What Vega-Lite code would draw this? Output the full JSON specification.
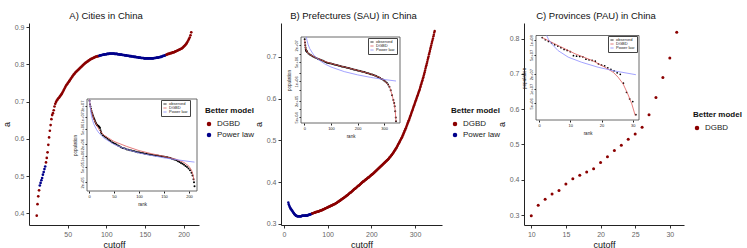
{
"$schema": "https://vega.github.io/schema/vega-lite/v6.json",
"background": "white",
"padding": {"left": 2, "top": 10, "right": 0, "bottom": 0},
"bounds": "flush",
"spacing": 82,
"config": {
  "font": "Liberation Sans",
  "view": {"stroke": null},
  "axis": {"grid": false, "domainColor": "#222", "tickColor": "#333", "labelColor": "#666", "labelFontSize": 7, "titleFontSize": 9, "titleFontWeight": "normal", "titleColor": "#111", "tickSize": 3, "labelPadding": 2, "titlePadding": 3},
  "title": {"fontSize": 9.5, "fontWeight": "normal", "color": "#111", "anchor": "middle", "offset": 3},
  "legend": {"titleFontSize": 8, "titleFontWeight": "bold", "titleColor": "#111", "labelFontSize": 8, "labelColor": "#222", "symbolType": "circle", "symbolSize": 20, "rowPadding": 3, "titlePadding": 5}
},
"datasets": {
"A": [
{"cutoff":10,"a":0.394,"model":"DGBD"},{"cutoff":11,"a":0.425,"model":"DGBD"},{"cutoff":12,"a":0.446,"model":"DGBD"},{"cutoff":13,"a":0.462,"model":"DGBD"},
{"cutoff":14,"a":0.475,"model":"Power law"},{"cutoff":15,"a":0.482,"model":"Power law"},{"cutoff":16,"a":0.489,"model":"Power law"},{"cutoff":17,"a":0.495,"model":"Power law"},{"cutoff":18,"a":0.504,"model":"Power law"},{"cutoff":19,"a":0.511,"model":"Power law"},{"cutoff":20,"a":0.519,"model":"Power law"},{"cutoff":21,"a":0.526,"model":"Power law"},
{"cutoff":22,"a":0.537,"model":"DGBD"},{"cutoff":23,"a":0.549,"model":"DGBD"},{"cutoff":24,"a":0.564,"model":"DGBD"},{"cutoff":25,"a":0.584,"model":"DGBD"},{"cutoff":26,"a":0.604,"model":"DGBD"},{"cutoff":27,"a":0.622,"model":"DGBD"},{"cutoff":28,"a":0.637,"model":"DGBD"},{"cutoff":29,"a":0.653,"model":"DGBD"},{"cutoff":30,"a":0.664,"model":"DGBD"},{"cutoff":31,"a":0.669,"model":"DGBD"},{"cutoff":32,"a":0.677,"model":"DGBD"},{"cutoff":33,"a":0.687,"model":"DGBD"},{"cutoff":34,"a":0.694,"model":"DGBD"},{"cutoff":35,"a":0.699,"model":"DGBD"},{"cutoff":36,"a":0.703,"model":"DGBD"},{"cutoff":37,"a":0.706,"model":"DGBD"},{"cutoff":38,"a":0.709,"model":"DGBD"},{"cutoff":39,"a":0.711,"model":"DGBD"},{"cutoff":40,"a":0.714,"model":"DGBD"},{"cutoff":41,"a":0.717,"model":"DGBD"},{"cutoff":42,"a":0.720,"model":"DGBD"},{"cutoff":43,"a":0.723,"model":"DGBD"},{"cutoff":44,"a":0.727,"model":"DGBD"},{"cutoff":45,"a":0.731,"model":"DGBD"},{"cutoff":46,"a":0.735,"model":"DGBD"},{"cutoff":47,"a":0.739,"model":"DGBD"},{"cutoff":48,"a":0.743,"model":"DGBD"},{"cutoff":49,"a":0.746,"model":"DGBD"},{"cutoff":50,"a":0.749,"model":"DGBD"},{"cutoff":51,"a":0.752,"model":"DGBD"},{"cutoff":52,"a":0.755,"model":"DGBD"},{"cutoff":53,"a":0.758,"model":"DGBD"},{"cutoff":54,"a":0.761,"model":"DGBD"},{"cutoff":55,"a":0.764,"model":"DGBD"},{"cutoff":56,"a":0.767,"model":"DGBD"},{"cutoff":57,"a":0.770,"model":"DGBD"},{"cutoff":58,"a":0.773,"model":"DGBD"},{"cutoff":59,"a":0.775,"model":"DGBD"},{"cutoff":60,"a":0.778,"model":"DGBD"},{"cutoff":61,"a":0.780,"model":"DGBD"},{"cutoff":62,"a":0.782,"model":"DGBD"},{"cutoff":63,"a":0.784,"model":"DGBD"},{"cutoff":64,"a":0.786,"model":"DGBD"},{"cutoff":65,"a":0.788,"model":"DGBD"},{"cutoff":66,"a":0.790,"model":"DGBD"},{"cutoff":67,"a":0.792,"model":"DGBD"},{"cutoff":68,"a":0.794,"model":"DGBD"},{"cutoff":69,"a":0.796,"model":"DGBD"},{"cutoff":70,"a":0.798,"model":"DGBD"},{"cutoff":71,"a":0.800,"model":"DGBD"},{"cutoff":72,"a":0.802,"model":"DGBD"},{"cutoff":73,"a":0.804,"model":"DGBD"},{"cutoff":74,"a":0.805,"model":"DGBD"},{"cutoff":75,"a":0.807,"model":"DGBD"},{"cutoff":76,"a":0.808,"model":"DGBD"},{"cutoff":77,"a":0.810,"model":"DGBD"},{"cutoff":78,"a":0.811,"model":"DGBD"},{"cutoff":79,"a":0.813,"model":"DGBD"},{"cutoff":80,"a":0.814,"model":"DGBD"},{"cutoff":81,"a":0.815,"model":"DGBD"},{"cutoff":82,"a":0.816,"model":"DGBD"},{"cutoff":83,"a":0.817,"model":"DGBD"},{"cutoff":84,"a":0.818,"model":"DGBD"},{"cutoff":85,"a":0.819,"model":"DGBD"},{"cutoff":86,"a":0.820,"model":"DGBD"},{"cutoff":87,"a":0.821,"model":"DGBD"},{"cutoff":88,"a":0.821,"model":"DGBD"},{"cutoff":89,"a":0.822,"model":"DGBD"},{"cutoff":90,"a":0.822,"model":"DGBD"},
{"cutoff":91,"a":0.823,"model":"Power law"},{"cutoff":92,"a":0.824,"model":"Power law"},{"cutoff":93,"a":0.824,"model":"Power law"},{"cutoff":94,"a":0.825,"model":"Power law"},{"cutoff":95,"a":0.825,"model":"Power law"},{"cutoff":96,"a":0.826,"model":"Power law"},{"cutoff":97,"a":0.826,"model":"Power law"},{"cutoff":98,"a":0.827,"model":"Power law"},{"cutoff":99,"a":0.827,"model":"Power law"},{"cutoff":100,"a":0.827,"model":"Power law"},{"cutoff":101,"a":0.828,"model":"Power law"},{"cutoff":102,"a":0.828,"model":"Power law"},{"cutoff":103,"a":0.828,"model":"Power law"},{"cutoff":104,"a":0.829,"model":"Power law"},{"cutoff":105,"a":0.829,"model":"Power law"},{"cutoff":106,"a":0.829,"model":"Power law"},{"cutoff":107,"a":0.829,"model":"Power law"},{"cutoff":108,"a":0.829,"model":"Power law"},{"cutoff":109,"a":0.829,"model":"Power law"},{"cutoff":110,"a":0.829,"model":"Power law"},{"cutoff":111,"a":0.828,"model":"Power law"},{"cutoff":112,"a":0.828,"model":"Power law"},{"cutoff":113,"a":0.828,"model":"Power law"},{"cutoff":114,"a":0.828,"model":"Power law"},{"cutoff":115,"a":0.827,"model":"Power law"},{"cutoff":116,"a":0.827,"model":"Power law"},{"cutoff":117,"a":0.827,"model":"Power law"},{"cutoff":118,"a":0.826,"model":"Power law"},{"cutoff":119,"a":0.826,"model":"Power law"},{"cutoff":120,"a":0.826,"model":"Power law"},{"cutoff":121,"a":0.825,"model":"Power law"},{"cutoff":122,"a":0.825,"model":"Power law"},{"cutoff":123,"a":0.825,"model":"Power law"},{"cutoff":124,"a":0.824,"model":"Power law"},{"cutoff":125,"a":0.824,"model":"Power law"},{"cutoff":126,"a":0.824,"model":"Power law"},{"cutoff":127,"a":0.823,"model":"Power law"},{"cutoff":128,"a":0.823,"model":"Power law"},{"cutoff":129,"a":0.823,"model":"Power law"},{"cutoff":130,"a":0.822,"model":"Power law"},{"cutoff":131,"a":0.822,"model":"Power law"},{"cutoff":132,"a":0.822,"model":"Power law"},{"cutoff":133,"a":0.821,"model":"Power law"},{"cutoff":134,"a":0.821,"model":"Power law"},{"cutoff":135,"a":0.821,"model":"Power law"},{"cutoff":136,"a":0.820,"model":"Power law"},{"cutoff":137,"a":0.820,"model":"Power law"},{"cutoff":138,"a":0.820,"model":"Power law"},{"cutoff":139,"a":0.819,"model":"Power law"},{"cutoff":140,"a":0.819,"model":"Power law"},{"cutoff":141,"a":0.819,"model":"Power law"},{"cutoff":142,"a":0.818,"model":"Power law"},{"cutoff":143,"a":0.818,"model":"Power law"},{"cutoff":144,"a":0.818,"model":"Power law"},{"cutoff":145,"a":0.817,"model":"Power law"},{"cutoff":146,"a":0.817,"model":"Power law"},{"cutoff":147,"a":0.817,"model":"Power law"},{"cutoff":148,"a":0.817,"model":"Power law"},{"cutoff":149,"a":0.816,"model":"Power law"},{"cutoff":150,"a":0.816,"model":"Power law"},{"cutoff":151,"a":0.816,"model":"Power law"},{"cutoff":152,"a":0.816,"model":"Power law"},{"cutoff":153,"a":0.816,"model":"Power law"},{"cutoff":154,"a":0.816,"model":"Power law"},{"cutoff":155,"a":0.816,"model":"Power law"},{"cutoff":156,"a":0.816,"model":"Power law"},{"cutoff":157,"a":0.816,"model":"Power law"},{"cutoff":158,"a":0.816,"model":"Power law"},{"cutoff":159,"a":0.816,"model":"Power law"},{"cutoff":160,"a":0.816,"model":"Power law"},{"cutoff":161,"a":0.816,"model":"Power law"},{"cutoff":162,"a":0.817,"model":"Power law"},{"cutoff":163,"a":0.817,"model":"Power law"},{"cutoff":164,"a":0.817,"model":"Power law"},{"cutoff":165,"a":0.818,"model":"Power law"},{"cutoff":166,"a":0.818,"model":"Power law"},{"cutoff":167,"a":0.818,"model":"Power law"},{"cutoff":168,"a":0.819,"model":"Power law"},{"cutoff":169,"a":0.819,"model":"Power law"},{"cutoff":170,"a":0.820,"model":"Power law"},{"cutoff":171,"a":0.820,"model":"Power law"},{"cutoff":172,"a":0.821,"model":"Power law"},{"cutoff":173,"a":0.822,"model":"Power law"},{"cutoff":174,"a":0.823,"model":"Power law"},{"cutoff":175,"a":0.823,"model":"Power law"},{"cutoff":176,"a":0.824,"model":"Power law"},{"cutoff":177,"a":0.825,"model":"Power law"},
{"cutoff":178,"a":0.826,"model":"DGBD"},{"cutoff":179,"a":0.827,"model":"DGBD"},{"cutoff":180,"a":0.828,"model":"DGBD"},{"cutoff":181,"a":0.828,"model":"DGBD"},{"cutoff":182,"a":0.829,"model":"DGBD"},{"cutoff":183,"a":0.830,"model":"DGBD"},{"cutoff":184,"a":0.830,"model":"DGBD"},{"cutoff":185,"a":0.831,"model":"DGBD"},{"cutoff":186,"a":0.832,"model":"DGBD"},{"cutoff":187,"a":0.832,"model":"DGBD"},{"cutoff":188,"a":0.833,"model":"DGBD"},{"cutoff":189,"a":0.834,"model":"DGBD"},{"cutoff":190,"a":0.835,"model":"DGBD"},{"cutoff":191,"a":0.836,"model":"DGBD"},{"cutoff":192,"a":0.837,"model":"DGBD"},{"cutoff":193,"a":0.838,"model":"DGBD"},{"cutoff":194,"a":0.839,"model":"DGBD"},{"cutoff":195,"a":0.840,"model":"DGBD"},{"cutoff":196,"a":0.841,"model":"DGBD"},{"cutoff":197,"a":0.842,"model":"DGBD"},{"cutoff":198,"a":0.843,"model":"DGBD"},{"cutoff":199,"a":0.845,"model":"DGBD"},{"cutoff":200,"a":0.847,"model":"DGBD"},{"cutoff":201,"a":0.849,"model":"DGBD"},{"cutoff":202,"a":0.851,"model":"DGBD"},{"cutoff":203,"a":0.854,"model":"DGBD"},{"cutoff":204,"a":0.857,"model":"DGBD"},{"cutoff":205,"a":0.860,"model":"DGBD"},{"cutoff":206,"a":0.864,"model":"DGBD"},{"cutoff":207,"a":0.868,"model":"DGBD"},{"cutoff":208,"a":0.872,"model":"DGBD"},{"cutoff":209,"a":0.878,"model":"DGBD"},{"cutoff":210,"a":0.886,"model":"DGBD"}
],
"B": [
{"cutoff":10,"a":0.351,"model":"Power law"},{"cutoff":11,"a":0.347,"model":"Power law"},{"cutoff":12,"a":0.344,"model":"Power law"},{"cutoff":13,"a":0.341,"model":"Power law"},{"cutoff":14,"a":0.339,"model":"Power law"},{"cutoff":15,"a":0.337,"model":"Power law"},{"cutoff":16,"a":0.335,"model":"Power law"},{"cutoff":17,"a":0.334,"model":"Power law"},{"cutoff":18,"a":0.332,"model":"Power law"},{"cutoff":19,"a":0.331,"model":"Power law"},{"cutoff":20,"a":0.329,"model":"Power law"},{"cutoff":21,"a":0.328,"model":"Power law"},{"cutoff":22,"a":0.326,"model":"Power law"},{"cutoff":23,"a":0.325,"model":"Power law"},{"cutoff":24,"a":0.323,"model":"Power law"},{"cutoff":25,"a":0.322,"model":"Power law"},{"cutoff":26,"a":0.321,"model":"Power law"},{"cutoff":27,"a":0.320,"model":"Power law"},{"cutoff":28,"a":0.319,"model":"Power law"},{"cutoff":29,"a":0.319,"model":"Power law"},{"cutoff":30,"a":0.318,"model":"Power law"},{"cutoff":31,"a":0.318,"model":"Power law"},{"cutoff":32,"a":0.318,"model":"Power law"},{"cutoff":33,"a":0.318,"model":"Power law"},{"cutoff":34,"a":0.318,"model":"Power law"},{"cutoff":35,"a":0.318,"model":"Power law"},{"cutoff":36,"a":0.318,"model":"Power law"},{"cutoff":37,"a":0.318,"model":"Power law"},{"cutoff":38,"a":0.318,"model":"Power law"},{"cutoff":39,"a":0.318,"model":"Power law"},{"cutoff":40,"a":0.318,"model":"Power law"},{"cutoff":41,"a":0.319,"model":"Power law"},{"cutoff":42,"a":0.319,"model":"Power law"},{"cutoff":43,"a":0.319,"model":"Power law"},{"cutoff":44,"a":0.319,"model":"Power law"},{"cutoff":45,"a":0.319,"model":"Power law"},{"cutoff":46,"a":0.319,"model":"Power law"},{"cutoff":47,"a":0.319,"model":"Power law"},{"cutoff":48,"a":0.319,"model":"Power law"},{"cutoff":49,"a":0.320,"model":"Power law"},{"cutoff":50,"a":0.320,"model":"Power law"},{"cutoff":51,"a":0.320,"model":"Power law"},{"cutoff":52,"a":0.320,"model":"Power law"},{"cutoff":53,"a":0.320,"model":"Power law"},{"cutoff":54,"a":0.320,"model":"Power law"},{"cutoff":55,"a":0.321,"model":"Power law"},{"cutoff":56,"a":0.321,"model":"Power law"},{"cutoff":57,"a":0.321,"model":"Power law"},{"cutoff":58,"a":0.322,"model":"Power law"},{"cutoff":59,"a":0.322,"model":"Power law"},{"cutoff":60,"a":0.322,"model":"Power law"},{"cutoff":61,"a":0.323,"model":"Power law"},{"cutoff":62,"a":0.323,"model":"Power law"},{"cutoff":63,"a":0.324,"model":"Power law"},{"cutoff":64,"a":0.324,"model":"Power law"},
{"cutoff":65,"a":0.325,"model":"DGBD"},{"cutoff":66,"a":0.325,"model":"DGBD"},{"cutoff":67,"a":0.325,"model":"DGBD"},{"cutoff":68,"a":0.326,"model":"DGBD"},{"cutoff":69,"a":0.326,"model":"DGBD"},{"cutoff":70,"a":0.327,"model":"DGBD"},{"cutoff":71,"a":0.327,"model":"DGBD"},{"cutoff":72,"a":0.327,"model":"DGBD"},{"cutoff":73,"a":0.328,"model":"DGBD"},{"cutoff":74,"a":0.328,"model":"DGBD"},{"cutoff":75,"a":0.328,"model":"DGBD"},{"cutoff":76,"a":0.329,"model":"DGBD"},{"cutoff":77,"a":0.329,"model":"DGBD"},{"cutoff":78,"a":0.329,"model":"DGBD"},{"cutoff":79,"a":0.330,"model":"DGBD"},{"cutoff":80,"a":0.330,"model":"DGBD"},{"cutoff":81,"a":0.330,"model":"DGBD"},{"cutoff":82,"a":0.331,"model":"DGBD"},{"cutoff":83,"a":0.331,"model":"DGBD"},{"cutoff":84,"a":0.332,"model":"DGBD"},{"cutoff":85,"a":0.332,"model":"DGBD"},{"cutoff":86,"a":0.332,"model":"DGBD"},{"cutoff":87,"a":0.333,"model":"DGBD"},{"cutoff":88,"a":0.333,"model":"DGBD"},{"cutoff":89,"a":0.334,"model":"DGBD"},{"cutoff":90,"a":0.334,"model":"DGBD"},{"cutoff":91,"a":0.335,"model":"DGBD"},{"cutoff":92,"a":0.335,"model":"DGBD"},{"cutoff":93,"a":0.336,"model":"DGBD"},{"cutoff":94,"a":0.336,"model":"DGBD"},{"cutoff":95,"a":0.337,"model":"DGBD"},{"cutoff":96,"a":0.337,"model":"DGBD"},{"cutoff":97,"a":0.338,"model":"DGBD"},{"cutoff":98,"a":0.338,"model":"DGBD"},{"cutoff":99,"a":0.339,"model":"DGBD"},{"cutoff":100,"a":0.339,"model":"DGBD"},{"cutoff":101,"a":0.340,"model":"DGBD"},{"cutoff":102,"a":0.340,"model":"DGBD"},{"cutoff":103,"a":0.341,"model":"DGBD"},{"cutoff":104,"a":0.341,"model":"DGBD"},{"cutoff":105,"a":0.342,"model":"DGBD"},{"cutoff":106,"a":0.342,"model":"DGBD"},{"cutoff":107,"a":0.343,"model":"DGBD"},{"cutoff":108,"a":0.343,"model":"DGBD"},{"cutoff":109,"a":0.344,"model":"DGBD"},{"cutoff":110,"a":0.344,"model":"DGBD"},{"cutoff":111,"a":0.345,"model":"DGBD"},{"cutoff":112,"a":0.345,"model":"DGBD"},{"cutoff":113,"a":0.346,"model":"DGBD"},{"cutoff":114,"a":0.346,"model":"DGBD"},{"cutoff":115,"a":0.347,"model":"DGBD"},{"cutoff":116,"a":0.347,"model":"DGBD"},{"cutoff":117,"a":0.348,"model":"DGBD"},{"cutoff":118,"a":0.348,"model":"DGBD"},{"cutoff":119,"a":0.349,"model":"DGBD"},{"cutoff":120,"a":0.350,"model":"DGBD"},{"cutoff":121,"a":0.350,"model":"DGBD"},{"cutoff":122,"a":0.351,"model":"DGBD"},{"cutoff":123,"a":0.352,"model":"DGBD"},{"cutoff":124,"a":0.353,"model":"DGBD"},{"cutoff":125,"a":0.353,"model":"DGBD"},{"cutoff":126,"a":0.354,"model":"DGBD"},{"cutoff":127,"a":0.355,"model":"DGBD"},{"cutoff":128,"a":0.355,"model":"DGBD"},{"cutoff":129,"a":0.356,"model":"DGBD"},{"cutoff":130,"a":0.357,"model":"DGBD"},{"cutoff":131,"a":0.358,"model":"DGBD"},{"cutoff":132,"a":0.358,"model":"DGBD"},{"cutoff":133,"a":0.359,"model":"DGBD"},{"cutoff":134,"a":0.360,"model":"DGBD"},{"cutoff":135,"a":0.361,"model":"DGBD"},{"cutoff":136,"a":0.361,"model":"DGBD"},{"cutoff":137,"a":0.362,"model":"DGBD"},{"cutoff":138,"a":0.363,"model":"DGBD"},{"cutoff":139,"a":0.364,"model":"DGBD"},{"cutoff":140,"a":0.364,"model":"DGBD"},{"cutoff":141,"a":0.365,"model":"DGBD"},{"cutoff":142,"a":0.366,"model":"DGBD"},{"cutoff":143,"a":0.367,"model":"DGBD"},{"cutoff":144,"a":0.368,"model":"DGBD"},{"cutoff":145,"a":0.368,"model":"DGBD"},{"cutoff":146,"a":0.369,"model":"DGBD"},{"cutoff":147,"a":0.370,"model":"DGBD"},{"cutoff":148,"a":0.371,"model":"DGBD"},{"cutoff":149,"a":0.372,"model":"DGBD"},{"cutoff":150,"a":0.373,"model":"DGBD"},{"cutoff":151,"a":0.374,"model":"DGBD"},{"cutoff":152,"a":0.375,"model":"DGBD"},{"cutoff":153,"a":0.375,"model":"DGBD"},{"cutoff":154,"a":0.376,"model":"DGBD"},{"cutoff":155,"a":0.377,"model":"DGBD"},{"cutoff":156,"a":0.378,"model":"DGBD"},{"cutoff":157,"a":0.379,"model":"DGBD"},{"cutoff":158,"a":0.380,"model":"DGBD"},{"cutoff":159,"a":0.381,"model":"DGBD"},{"cutoff":160,"a":0.382,"model":"DGBD"},{"cutoff":161,"a":0.383,"model":"DGBD"},{"cutoff":162,"a":0.384,"model":"DGBD"},{"cutoff":163,"a":0.384,"model":"DGBD"},{"cutoff":164,"a":0.385,"model":"DGBD"},{"cutoff":165,"a":0.386,"model":"DGBD"},{"cutoff":166,"a":0.387,"model":"DGBD"},{"cutoff":167,"a":0.388,"model":"DGBD"},{"cutoff":168,"a":0.389,"model":"DGBD"},{"cutoff":169,"a":0.390,"model":"DGBD"},{"cutoff":170,"a":0.391,"model":"DGBD"},{"cutoff":171,"a":0.391,"model":"DGBD"},{"cutoff":172,"a":0.392,"model":"DGBD"},{"cutoff":173,"a":0.393,"model":"DGBD"},{"cutoff":174,"a":0.394,"model":"DGBD"},{"cutoff":175,"a":0.395,"model":"DGBD"},{"cutoff":176,"a":0.396,"model":"DGBD"},{"cutoff":177,"a":0.397,"model":"DGBD"},{"cutoff":178,"a":0.398,"model":"DGBD"},{"cutoff":179,"a":0.399,"model":"DGBD"},{"cutoff":180,"a":0.400,"model":"DGBD"},{"cutoff":181,"a":0.401,"model":"DGBD"},{"cutoff":182,"a":0.401,"model":"DGBD"},{"cutoff":183,"a":0.402,"model":"DGBD"},{"cutoff":184,"a":0.403,"model":"DGBD"},{"cutoff":185,"a":0.404,"model":"DGBD"},{"cutoff":186,"a":0.405,"model":"DGBD"},{"cutoff":187,"a":0.406,"model":"DGBD"},{"cutoff":188,"a":0.406,"model":"DGBD"},{"cutoff":189,"a":0.407,"model":"DGBD"},{"cutoff":190,"a":0.408,"model":"DGBD"},{"cutoff":191,"a":0.409,"model":"DGBD"},{"cutoff":192,"a":0.410,"model":"DGBD"},{"cutoff":193,"a":0.411,"model":"DGBD"},{"cutoff":194,"a":0.411,"model":"DGBD"},{"cutoff":195,"a":0.412,"model":"DGBD"},{"cutoff":196,"a":0.413,"model":"DGBD"},{"cutoff":197,"a":0.414,"model":"DGBD"},{"cutoff":198,"a":0.415,"model":"DGBD"},{"cutoff":199,"a":0.416,"model":"DGBD"},{"cutoff":200,"a":0.417,"model":"DGBD"},{"cutoff":201,"a":0.418,"model":"DGBD"},{"cutoff":202,"a":0.418,"model":"DGBD"},{"cutoff":203,"a":0.419,"model":"DGBD"},{"cutoff":204,"a":0.420,"model":"DGBD"},{"cutoff":205,"a":0.421,"model":"DGBD"},{"cutoff":206,"a":0.422,"model":"DGBD"},{"cutoff":207,"a":0.423,"model":"DGBD"},{"cutoff":208,"a":0.424,"model":"DGBD"},{"cutoff":209,"a":0.425,"model":"DGBD"},{"cutoff":210,"a":0.426,"model":"DGBD"},{"cutoff":211,"a":0.427,"model":"DGBD"},{"cutoff":212,"a":0.428,"model":"DGBD"},{"cutoff":213,"a":0.429,"model":"DGBD"},{"cutoff":214,"a":0.430,"model":"DGBD"},{"cutoff":215,"a":0.431,"model":"DGBD"},{"cutoff":216,"a":0.432,"model":"DGBD"},{"cutoff":217,"a":0.433,"model":"DGBD"},{"cutoff":218,"a":0.434,"model":"DGBD"},{"cutoff":219,"a":0.435,"model":"DGBD"},{"cutoff":220,"a":0.436,"model":"DGBD"},{"cutoff":221,"a":0.437,"model":"DGBD"},{"cutoff":222,"a":0.438,"model":"DGBD"},{"cutoff":223,"a":0.439,"model":"DGBD"},{"cutoff":224,"a":0.440,"model":"DGBD"},{"cutoff":225,"a":0.441,"model":"DGBD"},{"cutoff":226,"a":0.442,"model":"DGBD"},{"cutoff":227,"a":0.443,"model":"DGBD"},{"cutoff":228,"a":0.444,"model":"DGBD"},{"cutoff":229,"a":0.445,"model":"DGBD"},{"cutoff":230,"a":0.446,"model":"DGBD"},{"cutoff":231,"a":0.447,"model":"DGBD"},{"cutoff":232,"a":0.448,"model":"DGBD"},{"cutoff":233,"a":0.449,"model":"DGBD"},{"cutoff":234,"a":0.450,"model":"DGBD"},{"cutoff":235,"a":0.451,"model":"DGBD"},{"cutoff":236,"a":0.452,"model":"DGBD"},{"cutoff":237,"a":0.453,"model":"DGBD"},{"cutoff":238,"a":0.454,"model":"DGBD"},{"cutoff":239,"a":0.455,"model":"DGBD"},{"cutoff":240,"a":0.456,"model":"DGBD"},{"cutoff":241,"a":0.458,"model":"DGBD"},{"cutoff":242,"a":0.459,"model":"DGBD"},{"cutoff":243,"a":0.460,"model":"DGBD"},{"cutoff":244,"a":0.461,"model":"DGBD"},{"cutoff":245,"a":0.463,"model":"DGBD"},{"cutoff":246,"a":0.464,"model":"DGBD"},{"cutoff":247,"a":0.465,"model":"DGBD"},{"cutoff":248,"a":0.467,"model":"DGBD"},{"cutoff":249,"a":0.468,"model":"DGBD"},{"cutoff":250,"a":0.470,"model":"DGBD"},{"cutoff":251,"a":0.471,"model":"DGBD"},{"cutoff":252,"a":0.473,"model":"DGBD"},{"cutoff":253,"a":0.475,"model":"DGBD"},{"cutoff":254,"a":0.476,"model":"DGBD"},{"cutoff":255,"a":0.478,"model":"DGBD"},{"cutoff":256,"a":0.480,"model":"DGBD"},{"cutoff":257,"a":0.481,"model":"DGBD"},{"cutoff":258,"a":0.483,"model":"DGBD"},{"cutoff":259,"a":0.485,"model":"DGBD"},{"cutoff":260,"a":0.487,"model":"DGBD"},{"cutoff":261,"a":0.489,"model":"DGBD"},{"cutoff":262,"a":0.491,"model":"DGBD"},{"cutoff":263,"a":0.493,"model":"DGBD"},{"cutoff":264,"a":0.495,"model":"DGBD"},{"cutoff":265,"a":0.497,"model":"DGBD"},{"cutoff":266,"a":0.499,"model":"DGBD"},{"cutoff":267,"a":0.501,"model":"DGBD"},{"cutoff":268,"a":0.503,"model":"DGBD"},{"cutoff":269,"a":0.505,"model":"DGBD"},{"cutoff":270,"a":0.507,"model":"DGBD"},{"cutoff":271,"a":0.509,"model":"DGBD"},{"cutoff":272,"a":0.512,"model":"DGBD"},{"cutoff":273,"a":0.514,"model":"DGBD"},{"cutoff":274,"a":0.517,"model":"DGBD"},{"cutoff":275,"a":0.519,"model":"DGBD"},{"cutoff":276,"a":0.522,"model":"DGBD"},{"cutoff":277,"a":0.524,"model":"DGBD"},{"cutoff":278,"a":0.527,"model":"DGBD"},{"cutoff":279,"a":0.529,"model":"DGBD"},{"cutoff":280,"a":0.532,"model":"DGBD"},{"cutoff":281,"a":0.535,"model":"DGBD"},{"cutoff":282,"a":0.537,"model":"DGBD"},{"cutoff":283,"a":0.540,"model":"DGBD"},{"cutoff":284,"a":0.543,"model":"DGBD"},{"cutoff":285,"a":0.546,"model":"DGBD"},{"cutoff":286,"a":0.548,"model":"DGBD"},{"cutoff":287,"a":0.551,"model":"DGBD"},{"cutoff":288,"a":0.554,"model":"DGBD"},{"cutoff":289,"a":0.557,"model":"DGBD"},{"cutoff":290,"a":0.560,"model":"DGBD"},{"cutoff":291,"a":0.563,"model":"DGBD"},{"cutoff":292,"a":0.566,"model":"DGBD"},{"cutoff":293,"a":0.569,"model":"DGBD"},{"cutoff":294,"a":0.572,"model":"DGBD"},{"cutoff":295,"a":0.575,"model":"DGBD"},{"cutoff":296,"a":0.578,"model":"DGBD"},{"cutoff":297,"a":0.581,"model":"DGBD"},{"cutoff":298,"a":0.584,"model":"DGBD"},{"cutoff":299,"a":0.587,"model":"DGBD"},{"cutoff":300,"a":0.590,"model":"DGBD"},{"cutoff":301,"a":0.593,"model":"DGBD"},{"cutoff":302,"a":0.596,"model":"DGBD"},{"cutoff":303,"a":0.599,"model":"DGBD"},{"cutoff":304,"a":0.602,"model":"DGBD"},{"cutoff":305,"a":0.605,"model":"DGBD"},{"cutoff":306,"a":0.608,"model":"DGBD"},{"cutoff":307,"a":0.611,"model":"DGBD"},{"cutoff":308,"a":0.614,"model":"DGBD"},{"cutoff":309,"a":0.617,"model":"DGBD"},{"cutoff":310,"a":0.620,"model":"DGBD"},{"cutoff":311,"a":0.623,"model":"DGBD"},{"cutoff":312,"a":0.627,"model":"DGBD"},{"cutoff":313,"a":0.630,"model":"DGBD"},{"cutoff":314,"a":0.634,"model":"DGBD"},{"cutoff":315,"a":0.637,"model":"DGBD"},{"cutoff":316,"a":0.641,"model":"DGBD"},{"cutoff":317,"a":0.644,"model":"DGBD"},{"cutoff":318,"a":0.648,"model":"DGBD"},{"cutoff":319,"a":0.651,"model":"DGBD"},{"cutoff":320,"a":0.655,"model":"DGBD"},{"cutoff":321,"a":0.659,"model":"DGBD"},{"cutoff":322,"a":0.663,"model":"DGBD"},{"cutoff":323,"a":0.667,"model":"DGBD"},{"cutoff":324,"a":0.672,"model":"DGBD"},{"cutoff":325,"a":0.676,"model":"DGBD"},{"cutoff":326,"a":0.680,"model":"DGBD"},{"cutoff":327,"a":0.684,"model":"DGBD"},{"cutoff":328,"a":0.688,"model":"DGBD"},{"cutoff":329,"a":0.693,"model":"DGBD"},{"cutoff":330,"a":0.697,"model":"DGBD"},{"cutoff":331,"a":0.701,"model":"DGBD"},{"cutoff":332,"a":0.706,"model":"DGBD"},{"cutoff":333,"a":0.710,"model":"DGBD"},{"cutoff":334,"a":0.714,"model":"DGBD"},{"cutoff":335,"a":0.719,"model":"DGBD"},{"cutoff":336,"a":0.723,"model":"DGBD"},{"cutoff":337,"a":0.727,"model":"DGBD"},{"cutoff":338,"a":0.732,"model":"DGBD"},{"cutoff":339,"a":0.736,"model":"DGBD"},{"cutoff":340,"a":0.740,"model":"DGBD"},{"cutoff":341,"a":0.744,"model":"DGBD"},{"cutoff":342,"a":0.749,"model":"DGBD"},{"cutoff":343,"a":0.753,"model":"DGBD"},{"cutoff":344,"a":0.758,"model":"DGBD"},{"cutoff":345,"a":0.762,"model":"DGBD"}
],
"C": [
{"cutoff":10,"a":0.298,"model":"DGBD"},{"cutoff":11,"a":0.328,"model":"DGBD"},{"cutoff":12,"a":0.345,"model":"DGBD"},{"cutoff":13,"a":0.360,"model":"DGBD"},{"cutoff":14,"a":0.370,"model":"DGBD"},{"cutoff":15,"a":0.388,"model":"DGBD"},{"cutoff":16,"a":0.403,"model":"DGBD"},{"cutoff":17,"a":0.413,"model":"DGBD"},{"cutoff":18,"a":0.422,"model":"DGBD"},{"cutoff":19,"a":0.431,"model":"DGBD"},{"cutoff":20,"a":0.449,"model":"DGBD"},{"cutoff":21,"a":0.465,"model":"DGBD"},{"cutoff":22,"a":0.483,"model":"DGBD"},{"cutoff":23,"a":0.498,"model":"DGBD"},{"cutoff":24,"a":0.515,"model":"DGBD"},{"cutoff":25,"a":0.530,"model":"DGBD"},{"cutoff":26,"a":0.549,"model":"DGBD"},{"cutoff":27,"a":0.584,"model":"DGBD"},{"cutoff":28,"a":0.633,"model":"DGBD"},{"cutoff":29,"a":0.690,"model":"DGBD"},{"cutoff":30,"a":0.745,"model":"DGBD"},{"cutoff":31,"a":0.818,"model":"DGBD"}
],
"A_obs": [
{"rank":1,"population":2.69e7},{"rank":2,"population":2.2e7},{"rank":3,"population":1.9e7},{"rank":4,"population":1.66e7},{"rank":5,"population":1.45e7},{"rank":6,"population":1.32e7},{"rank":7,"population":1.2e7},{"rank":8,"population":1.1e7},{"rank":9,"population":1.0e7},{"rank":10,"population":9.33e6},{"rank":11,"population":8.7e6},{"rank":12,"population":8.0e6},{"rank":13,"population":7.41e6},{"rank":14,"population":7.0e6},{"rank":15,"population":6.6e6},{"rank":16,"population":6.31e6},{"rank":17,"population":6.1e6},{"rank":18,"population":6.0e6},{"rank":19,"population":5.89e6},{"rank":20,"population":5.7e6},{"rank":21,"population":5.5e6},{"rank":22,"population":5.25e6},{"rank":23,"population":4.6e6},{"rank":24,"population":4.1e6},{"rank":25,"population":3.8e6},{"rank":28,"population":3.39e6},{"rank":31,"population":3.16e6},{"rank":34,"population":2.95e6},{"rank":37,"population":2.75e6},{"rank":40,"population":2.57e6},{"rank":43,"population":2.4e6},{"rank":46,"population":2.24e6},{"rank":49,"population":2.14e6},{"rank":52,"population":2.04e6},{"rank":55,"population":1.95e6},{"rank":58,"population":1.82e6},{"rank":61,"population":1.74e6},{"rank":64,"population":1.66e6},{"rank":67,"population":1.58e6},{"rank":70,"population":1.55e6},{"rank":73,"population":1.51e6},{"rank":76,"population":1.45e6},{"rank":79,"population":1.41e6},{"rank":82,"population":1.38e6},{"rank":85,"population":1.35e6},{"rank":88,"population":1.32e6},{"rank":91,"population":1.29e6},{"rank":94,"population":1.26e6},{"rank":97,"population":1.23e6},{"rank":100,"population":1.22e6},{"rank":103,"population":1.19e6},{"rank":106,"population":1.16e6},{"rank":109,"population":1.15e6},{"rank":112,"population":1.12e6},{"rank":115,"population":1.11e6},{"rank":118,"population":1.08e6},{"rank":121,"population":1.07e6},{"rank":124,"population":1.05e6},{"rank":127,"population":1.035e6},{"rank":130,"population":1.02e6},{"rank":133,"population":1.01e6},{"rank":136,"population":1.0e6},{"rank":139,"population":9.89e5},{"rank":142,"population":9.77e5},{"rank":145,"population":9.66e5},{"rank":148,"population":9.44e5},{"rank":151,"population":9.33e5},{"rank":154,"population":9.12e5},{"rank":157,"population":9.02e5},{"rank":160,"population":8.81e5},{"rank":163,"population":8.61e5},{"rank":166,"population":8.32e5},{"rank":169,"population":8.04e5},{"rank":172,"population":7.76e5},{"rank":175,"population":7.5e5},{"rank":178,"population":7.16e5},{"rank":181,"population":6.76e5},{"rank":184,"population":6.38e5},{"rank":187,"population":6.1e5},{"rank":190,"population":5.75e5},{"rank":193,"population":5.37e5},{"rank":196,"population":5.01e5},{"rank":199,"population":4.57e5},{"rank":202,"population":4.17e5},{"rank":205,"population":3.55e5},{"rank":207,"population":3.02e5},{"rank":209,"population":2.4e5},{"rank":210,"population":2.0e5},{"rank":211,"population":1.58e5}
],
"A_fit": [
{"model":"DGBD","rank":1,"population":2.95e7},{"model":"DGBD","rank":2,"population":2.1e7},{"model":"DGBD","rank":3,"population":1.8e7},{"model":"DGBD","rank":5,"population":1.48e7},{"model":"DGBD","rank":10,"population":8.71e6},{"model":"DGBD","rank":20,"population":4.79e6},{"model":"DGBD","rank":30,"population":3.39e6},{"model":"DGBD","rank":50,"population":2.34e6},{"model":"DGBD","rank":75,"population":1.74e6},{"model":"DGBD","rank":100,"population":1.35e6},{"model":"DGBD","rank":125,"population":1.12e6},{"model":"DGBD","rank":150,"population":9.55e5},{"model":"DGBD","rank":175,"population":7.94e5},{"model":"DGBD","rank":190,"population":6.61e5},{"model":"DGBD","rank":200,"population":5.25e5},{"model":"DGBD","rank":205,"population":4.17e5},{"model":"DGBD","rank":208,"population":3.16e5},{"model":"DGBD","rank":210,"population":2.24e5},
{"model":"Power law","rank":1.3,"population":2.92e7},{"model":"Power law","rank":2,"population":2.12e7},{"model":"Power law","rank":3,"population":1.57e7},{"model":"Power law","rank":5,"population":1.08e7},{"model":"Power law","rank":7,"population":8.41e6},{"model":"Power law","rank":10,"population":6.46e6},{"model":"Power law","rank":15,"population":4.79e6},{"model":"Power law","rank":20,"population":3.86e6},{"model":"Power law","rank":30,"population":2.86e6},{"model":"Power law","rank":50,"population":1.96e6},{"model":"Power law","rank":75,"population":1.46e6},{"model":"Power law","rank":100,"population":1.17e6},{"model":"Power law","rank":150,"population":8.71e5},{"model":"Power law","rank":200,"population":7.03e5},{"model":"Power law","rank":211,"population":6.76e5}
],
"B_obs": [
{"rank":1,"population":3.31e7},{"rank":2,"population":2.51e7},{"rank":3,"population":2.0e7},{"rank":4,"population":1.66e7},{"rank":5,"population":1.45e7},{"rank":6,"population":1.32e7},{"rank":7,"population":1.26e7},{"rank":8,"population":1.23e7},{"rank":9,"population":1.19e7},{"rank":10,"population":1.16e7},{"rank":15,"population":1.02e7},{"rank":20,"population":9.23e6},{"rank":25,"population":8.71e6},{"rank":30,"population":8.13e6},{"rank":35,"population":7.67e6},{"rank":40,"population":7.24e6},{"rank":45,"population":6.92e6},{"rank":50,"population":6.61e6},{"rank":55,"population":6.31e6},{"rank":60,"population":6.03e6},{"rank":65,"population":5.75e6},{"rank":70,"population":5.5e6},{"rank":75,"population":5.25e6},{"rank":80,"population":5.01e6},{"rank":85,"population":4.73e6},{"rank":90,"population":4.62e6},{"rank":95,"population":4.47e6},{"rank":100,"population":4.37e6},{"rank":105,"population":4.27e6},{"rank":110,"population":4.12e6},{"rank":115,"population":3.98e6},{"rank":120,"population":3.89e6},{"rank":125,"population":3.8e6},{"rank":130,"population":3.67e6},{"rank":135,"population":3.55e6},{"rank":140,"population":3.43e6},{"rank":145,"population":3.35e6},{"rank":150,"population":3.27e6},{"rank":155,"population":3.2e6},{"rank":160,"population":3.09e6},{"rank":165,"population":3.02e6},{"rank":170,"population":2.95e6},{"rank":175,"population":2.88e6},{"rank":180,"population":2.79e6},{"rank":185,"population":2.69e6},{"rank":190,"population":2.63e6},{"rank":195,"population":2.57e6},{"rank":200,"population":2.48e6},{"rank":205,"population":2.43e6},{"rank":210,"population":2.37e6},{"rank":215,"population":2.29e6},{"rank":220,"population":2.24e6},{"rank":225,"population":2.16e6},{"rank":230,"population":2.09e6},{"rank":235,"population":2.02e6},{"rank":240,"population":1.95e6},{"rank":245,"population":1.88e6},{"rank":250,"population":1.82e6},{"rank":255,"population":1.76e6},{"rank":260,"population":1.7e6},{"rank":265,"population":1.62e6},{"rank":270,"population":1.55e6},{"rank":275,"population":1.48e6},{"rank":280,"population":1.41e6},{"rank":285,"population":1.32e6},{"rank":290,"population":1.23e6},{"rank":295,"population":1.16e6},{"rank":300,"population":1.08e6},{"rank":305,"population":9.89e5},{"rank":310,"population":8.91e5},{"rank":315,"population":7.76e5},{"rank":320,"population":6.46e5},{"rank":325,"population":4.79e5},{"rank":330,"population":3.16e5},{"rank":335,"population":2.14e5},{"rank":338,"population":1.66e5},{"rank":340,"population":1.26e5},{"rank":342,"population":8.32e4},{"rank":344,"population":5.01e4},{"rank":345,"population":3.63e4}
],
"B_fit": [
{"model":"DGBD","rank":1,"population":3.16e7},{"model":"DGBD","rank":2,"population":2.3e7},{"model":"DGBD","rank":3,"population":1.91e7},{"model":"DGBD","rank":5,"population":1.48e7},{"model":"DGBD","rank":10,"population":1.15e7},{"model":"DGBD","rank":20,"population":9.33e6},{"model":"DGBD","rank":40,"population":7.33e6},{"model":"DGBD","rank":70,"population":5.56e6},{"model":"DGBD","rank":100,"population":4.42e6},{"model":"DGBD","rank":150,"population":3.31e6},{"model":"DGBD","rank":200,"population":2.51e6},{"model":"DGBD","rank":250,"population":1.84e6},{"model":"DGBD","rank":280,"population":1.43e6},{"model":"DGBD","rank":300,"population":1.1e6},{"model":"DGBD","rank":320,"population":6.61e5},{"model":"DGBD","rank":330,"population":3.31e5},{"model":"DGBD","rank":338,"population":1.58e5},{"model":"DGBD","rank":342,"population":8.91e4},{"model":"DGBD","rank":345,"population":3.55e4},
{"model":"Power law","rank":7,"population":3.98e7},{"model":"Power law","rank":8,"population":3.57e7},{"model":"Power law","rank":10,"population":2.9e7},{"model":"Power law","rank":14,"population":2.11e7},{"model":"Power law","rank":20,"population":1.51e7},{"model":"Power law","rank":35,"population":8.89e6},{"model":"Power law","rank":50,"population":6.35e6},{"model":"Power law","rank":75,"population":4.34e6},{"model":"Power law","rank":100,"population":3.3e6},{"model":"Power law","rank":150,"population":2.25e6},{"model":"Power law","rank":200,"population":1.72e6},{"model":"Power law","rank":250,"population":1.39e6},{"model":"Power law","rank":300,"population":1.17e6},{"model":"Power law","rank":345,"population":1.03e6}
],
"C_obs": [
{"rank":1,"population":1.14e8},{"rank":2,"population":1.03e8},{"rank":3,"population":9.53e7},{"rank":4,"population":8.79e7},{"rank":5,"population":8.13e7},{"rank":6,"population":7.62e7},{"rank":7,"population":7.06e7},{"rank":8,"population":6.52e7},{"rank":9,"population":6.21e7},{"rank":10,"population":5.83e7},{"rank":11,"population":4.82e7},{"rank":12,"population":4.73e7},{"rank":13,"population":4.67e7},{"rank":14,"population":4.59e7},{"rank":15,"population":4.1e7},{"rank":16,"population":3.98e7},{"rank":17,"population":3.85e7},{"rank":18,"population":3.73e7},{"rank":19,"population":3.29e7},{"rank":20,"population":3.08e7},{"rank":21,"population":2.99e7},{"rank":22,"population":2.72e7},{"rank":23,"population":2.51e7},{"rank":24,"population":2.36e7},{"rank":25,"population":2.14e7},{"rank":26,"population":2.0e7},{"rank":27,"population":1.31e7},{"rank":28,"population":8.51e6},{"rank":29,"population":6.21e6},{"rank":30,"population":5.46e6},{"rank":31,"population":2.94e6}
],
"C_fit": [
{"model":"DGBD","rank":1,"population":1.14e8},{"model":"DGBD","rank":6,"population":7.87e7},{"model":"DGBD","rank":11.5,"population":5.3e7},{"model":"DGBD","rank":17,"population":3.85e7},{"model":"DGBD","rank":21,"population":2.81e7},{"model":"DGBD","rank":23.7,"population":2.21e7},{"model":"DGBD","rank":25.3,"population":1.74e7},{"model":"DGBD","rank":26.9,"population":1.27e7},{"model":"DGBD","rank":28.4,"population":7.87e6},{"model":"DGBD","rank":29.7,"population":4.89e6},{"model":"DGBD","rank":30.8,"population":2.8e6},
{"model":"Power law","rank":2.4,"population":1.26e8},{"model":"Power law","rank":3,"population":1.05e8},{"model":"Power law","rank":4,"population":8.51e7},{"model":"Power law","rank":6,"population":6.2e7},{"model":"Power law","rank":9.3,"population":4.51e7},{"model":"Power law","rank":13.6,"population":3.54e7},{"model":"Power law","rank":18.9,"population":2.79e7},{"model":"Power law","rank":24.2,"population":2.34e7},{"model":"Power law","rank":31,"population":1.96e7}
]
},
"hconcat": [
{
  "width": 170, "height": 202,
  "title": {"text": "A)  Cities in China", "dx": -8},
  "layer": [
    {
      "data": {"name": "A"},
      "mark": {"type": "circle", "size": 7, "opacity": 1},
      "encoding": {
        "x": {"field": "cutoff", "type": "quantitative", "scale": {"domain": [0, 220], "nice": false, "zero": false}, "axis": {"orient": "bottom", "values": [50, 100, 150, 200], "title": "cutoff"}},
        "y": {"field": "a", "type": "quantitative", "scale": {"domain": [0.369, 0.911], "nice": false, "zero": false}, "axis": {"orient": "left", "values": [0.4, 0.5, 0.6, 0.7, 0.8, 0.9], "format": ".1f", "title": "a"}},
        "color": {"field": "model", "type": "nominal", "scale": {"domain": ["DGBD", "Power law"], "range": ["#8b0000", "#00008b"]}, "legend": {"title": "Better model", "orient": "none", "legendX": 176, "legendY": 84}}
      }
    },
    {
      "layer": [
        {
          "data": {"values": [{}]},
          "mark": {"type": "rect", "fill": "white", "stroke": "#444", "strokeWidth": 0.8},
          "encoding": {
            "x": {"datum": -4, "type": "quantitative"}, "x2": {"datum": 216},
            "y": {"datum": 119000, "type": "quantitative"}, "y2": {"datum": 30000000}
          }
        },
        {
          "data": {"name": "A_obs"},
          "transform": [{"calculate": "'observed'", "as": "series"}],
          "mark": {"type": "circle", "size": 4, "opacity": 1},
          "encoding": {
            "x": {"field": "rank", "type": "quantitative", "scale": {"domain": [-4, 216], "range": [58, 168], "nice": false, "zero": false}, "axis": {"orient": "bottom", "offset": -34, "values": [0, 50, 100, 150, 200], "title": "rank", "labelFontSize": 4, "titleFontSize": 4.5, "tickSize": 2, "labelPadding": 1, "titlePadding": 3, "domain": false, "labelColor": "#222", "tickColor": "#222", "titleColor": "#222"}},
            "y": {"field": "population", "type": "quantitative", "scale": {"type": "log", "domain": [119000, 30000000], "range": [168, 76], "nice": false}, "axis": {"orient": "left", "offset": -58, "values": [200000, 500000, 1000000, 2000000, 5000000, 10000000, 20000000], "labelExpr": "replace(format(datum.value, '.0e'), 'e+', 'e+0')", "title": "population", "labelAngle": -90, "labelAlign": "center", "labelBaseline": "bottom", "labelFontSize": 4, "titleFontSize": 4.5, "tickSize": 2, "labelPadding": 1, "titlePadding": 3, "domain": false, "labelColor": "#222", "tickColor": "#222", "titleColor": "#222"}},
            "color": {"field": "series", "type": "nominal", "scale": {"domain": ["observed", "DGBD", "Power law"], "range": ["#000000", "#e05a5a", "#8c8cff"]}, "legend": {"orient": "none", "legendX": 132, "legendY": 77, "title": null, "labelFontSize": 4, "symbolSize": 10, "symbolStrokeWidth": 0.8, "padding": 2, "rowPadding": 0, "strokeColor": "#444", "fillColor": "white", "labelOffset": 2, "symbolType": "stroke", "encode": {"symbols": {"update": {"shape": {"signal": "datum.value === 'observed' ? 'circle' : 'stroke'"}, "fill": {"signal": "datum.value === 'observed' ? 'black' : 'transparent'"}, "stroke": {"signal": "datum.value === 'observed' ? 'black' : datum.value === 'DGBD' ? '#e05a5a' : '#8c8cff'"}}}}}}
          }
        },
        {
          "data": {"name": "A_fit"},
          "mark": {"type": "line", "strokeWidth": 0.8},
          "encoding": {
            "x": {"field": "rank", "type": "quantitative"},
            "y": {"field": "population", "type": "quantitative"},
            "color": {"field": "model", "type": "nominal"}
          }
        }
      ]
    }
  ],
  "resolve": {"scale": {"x": "independent", "y": "independent", "color": "independent"}}
},
{
  "width": 161, "height": 202,
  "title": {"text": "B)  Prefectures (SAU) in China", "dx": -8},
  "layer": [
    {
      "data": {"name": "B"},
      "mark": {"type": "circle", "size": 6, "opacity": 1},
      "encoding": {
        "x": {"field": "cutoff", "type": "quantitative", "scale": {"domain": [-6.75, 361.75], "nice": false, "zero": false}, "axis": {"orient": "bottom", "values": [0, 100, 200, 300], "title": "cutoff"}},
        "y": {"field": "a", "type": "quantitative", "scale": {"domain": [0.297, 0.781], "nice": false, "zero": false}, "axis": {"orient": "left", "values": [0.3, 0.4, 0.5, 0.6, 0.7], "format": ".1f", "title": "a"}},
        "color": {"field": "model", "type": "nominal", "scale": {"domain": ["DGBD", "Power law"], "range": ["#8b0000", "#00008b"]}, "legend": {"title": "Better model", "orient": "none", "legendX": 170, "legendY": 84}}
      }
    },
    {
      "layer": [
        {
          "data": {"values": [{}]},
          "mark": {"type": "rect", "fill": "white", "stroke": "#444", "strokeWidth": 0.8},
          "encoding": {
            "x": {"datum": -13, "type": "quantitative"}, "x2": {"datum": 360},
            "y": {"datum": 31623, "type": "quantitative"}, "y2": {"datum": 39800000}
          }
        },
        {
          "data": {"name": "B_obs"},
          "transform": [{"calculate": "'observed'", "as": "series"}],
          "mark": {"type": "circle", "size": 4, "opacity": 1},
          "encoding": {
            "x": {"field": "rank", "type": "quantitative", "scale": {"domain": [-13, 360], "range": [20, 119], "nice": false, "zero": false}, "axis": {"orient": "bottom", "offset": -102, "values": [0, 50, 100, 150, 200, 250, 300, 350], "title": "rank", "labelFontSize": 4, "titleFontSize": 4.5, "tickSize": 2, "labelPadding": 1, "titlePadding": 3, "domain": false, "labelColor": "#222", "tickColor": "#222", "titleColor": "#222"}},
            "y": {"field": "population", "type": "quantitative", "scale": {"type": "log", "domain": [31623, 39800000], "range": [100, 14], "nice": false}, "axis": {"orient": "left", "offset": -20, "values": [50000, 100000, 200000, 500000, 1000000, 2000000, 5000000, 10000000, 20000000], "labelExpr": "replace(format(datum.value, '.0e'), 'e+', 'e+0')", "title": "population", "labelAngle": -90, "labelAlign": "center", "labelBaseline": "bottom", "labelFontSize": 4, "titleFontSize": 4.5, "tickSize": 2, "labelPadding": 1, "titlePadding": 3, "domain": false, "labelColor": "#222", "tickColor": "#222", "titleColor": "#222"}},
            "color": {"field": "series", "type": "nominal", "scale": {"domain": ["observed", "DGBD", "Power law"], "range": ["#000000", "#e05a5a", "#8c8cff"]}, "legend": {"orient": "none", "legendX": 87, "legendY": 15, "title": null, "labelFontSize": 4, "symbolSize": 10, "symbolStrokeWidth": 0.8, "padding": 2, "rowPadding": 0, "strokeColor": "#444", "fillColor": "white", "labelOffset": 2, "symbolType": "stroke", "encode": {"symbols": {"update": {"shape": {"signal": "datum.value === 'observed' ? 'circle' : 'stroke'"}, "fill": {"signal": "datum.value === 'observed' ? 'black' : 'transparent'"}, "stroke": {"signal": "datum.value === 'observed' ? 'black' : datum.value === 'DGBD' ? '#e05a5a' : '#8c8cff'"}}}}}}
          }
        },
        {
          "data": {"name": "B_fit"},
          "mark": {"type": "line", "strokeWidth": 0.8},
          "encoding": {
            "x": {"field": "rank", "type": "quantitative"},
            "y": {"field": "population", "type": "quantitative"},
            "color": {"field": "model", "type": "nominal"}
          }
        }
      ]
    }
  ],
  "resolve": {"scale": {"x": "independent", "y": "independent", "color": "independent"}}
},
{
  "width": 160, "height": 202,
  "title": {"text": "C)  Provinces (PAU) in China", "dx": -8},
  "layer": [
    {
      "data": {"name": "C"},
      "mark": {"type": "circle", "size": 9, "opacity": 1},
      "encoding": {
        "x": {"field": "cutoff", "type": "quantitative", "scale": {"domain": [8.95, 32.05], "nice": false, "zero": false}, "axis": {"orient": "bottom", "values": [10, 15, 20, 25, 30], "title": "cutoff"}},
        "y": {"field": "a", "type": "quantitative", "scale": {"domain": [0.272, 0.844], "nice": false, "zero": false}, "axis": {"orient": "left", "values": [0.3, 0.4, 0.5, 0.6, 0.7, 0.8], "format": ".1f", "title": "a"}},
        "color": {"field": "model", "type": "nominal", "scale": {"domain": ["DGBD"], "range": ["#8b0000"]}, "legend": {"title": "Better model", "orient": "none", "legendX": 169, "legendY": 88}}
      }
    },
    {
      "layer": [
        {
          "data": {"values": [{}]},
          "mark": {"type": "rect", "fill": "white", "stroke": "#444", "strokeWidth": 0.8},
          "encoding": {
            "x": {"datum": -1, "type": "quantitative"}, "x2": {"datum": 32},
            "y": {"datum": 2280000, "type": "quantitative"}, "y2": {"datum": 126000000}
          }
        },
        {
          "data": {"name": "C_obs"},
          "transform": [{"calculate": "'observed'", "as": "series"}],
          "mark": {"type": "circle", "size": 3, "opacity": 1},
          "encoding": {
            "x": {"field": "rank", "type": "quantitative", "scale": {"domain": [-1, 32], "range": [12, 115], "nice": false, "zero": false}, "axis": {"orient": "bottom", "offset": -105, "values": [0, 5, 10, 15, 20, 25, 30], "title": "rank", "labelFontSize": 4, "titleFontSize": 4.5, "tickSize": 2, "labelPadding": 1, "titlePadding": 3, "domain": false, "labelColor": "#222", "tickColor": "#222", "titleColor": "#222"}},
            "y": {"field": "population", "type": "quantitative", "scale": {"type": "log", "domain": [2280000, 126000000], "range": [97, 12.5], "nice": false}, "axis": {"orient": "left", "offset": -12, "values": [5000000, 10000000, 20000000, 50000000, 100000000], "labelExpr": "replace(format(datum.value, '.0e'), 'e+', 'e+0')", "title": "population", "labelAngle": -90, "labelAlign": "center", "labelBaseline": "bottom", "labelFontSize": 4, "titleFontSize": 4.5, "tickSize": 2, "labelPadding": 1, "titlePadding": 3, "domain": false, "labelColor": "#222", "tickColor": "#222", "titleColor": "#222"}},
            "color": {"field": "series", "type": "nominal", "scale": {"domain": ["observed", "DGBD", "Power law"], "range": ["#000000", "#e05a5a", "#8c8cff"]}, "legend": {"orient": "none", "legendX": 84, "legendY": 13, "title": null, "labelFontSize": 4, "symbolSize": 10, "symbolStrokeWidth": 0.8, "padding": 2, "rowPadding": 0, "strokeColor": "#444", "fillColor": "white", "labelOffset": 2, "symbolType": "stroke", "encode": {"symbols": {"update": {"shape": {"signal": "datum.value === 'observed' ? 'circle' : 'stroke'"}, "fill": {"signal": "datum.value === 'observed' ? 'black' : 'transparent'"}, "stroke": {"signal": "datum.value === 'observed' ? 'black' : datum.value === 'DGBD' ? '#e05a5a' : '#8c8cff'"}}}}}}
          }
        },
        {
          "data": {"name": "C_fit"},
          "mark": {"type": "line", "strokeWidth": 0.8},
          "encoding": {
            "x": {"field": "rank", "type": "quantitative"},
            "y": {"field": "population", "type": "quantitative"},
            "color": {"field": "model", "type": "nominal"}
          }
        }
      ]
    }
  ],
  "resolve": {"scale": {"x": "independent", "y": "independent", "color": "independent"}}
}
]
}
